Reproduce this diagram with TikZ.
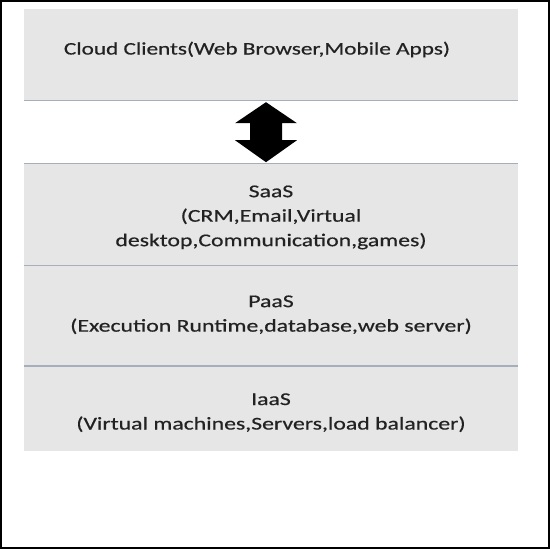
\documentclass[tikz,border=0pt]{standalone}
\usepackage{fontspec}
\setmainfont{Carlito}[FakeStretch=1.32,FakeBold=0.5]
\usetikzlibrary{positioning,calc}
\definecolor{Band}{RGB}{230,230,230}
\definecolor{Rule}{RGB}{165,174,186}
\definecolor{Ink}{RGB}{34,34,34}

\begin{document}
\begin{tikzpicture}[x=1pt,y=1pt,node distance=0pt,
 layer/.style={fill=Band,minimum width=494pt,inner sep=0pt},
 txt/.style={align=center,text=Ink,font=\fontsize{18}{24.5}\selectfont,inner sep=0pt},
 rule/.style={Rule,line width=1.3pt}]
\useasboundingbox (0,0) rectangle (550,549);
\draw[line width=2pt] (1,1) rectangle (549,548);
% stack of layers
\node[layer,minimum height=91pt] (clients) at (271,494.5) {};
\node[layer,minimum height=102pt,below=63pt of clients] (saas) {};
\node[layer,minimum height=100pt,below=of saas] (paas) {};
\node[layer,minimum height=85pt,below=of paas] (iaas) {};
\node[txt,font=\fontsize{17.6}{24.5}\selectfont] (clientsT) at ($(clients.center)+(-14,5)$) {Cloud Clients(Web Browser,Mobile Apps)};
\node[txt] (saasT) at ($(saas.center)+(0,-3)$) {SaaS\\(CRM,Email,Virtual\\desktop,Communication,games)};
\node[txt] (paasT) at ($(paas.center)+(0,1)$) {PaaS\\(Execution Runtime,database,web server)};
\node[txt] (iaasT) at ($(iaas.center)+(0,-4)$) {IaaS\\(Virtual machines,Servers,load balancer)};
\draw[rule] (clients.south west)--(clients.south east);
\draw[rule] (saas.north west)--(saas.north east);
\draw[rule] (saas.south west)--(saas.south east);
\draw[rule] (paas.south west)--(paas.south east);
% two-way arrow
\coordinate (up) at ($(clients.south)+(-5,-2)$);
\coordinate (dn) at ($(saas.north)+(-5,1)$);
\fill (up) -- ++(31,-21) -- ++(-15,0) -- ($(dn)+(16,22)$) -- ++(15,0) -- (dn)
 -- ++(-31,22) -- ++(15,0) -- ($(up)+(-16,-21)$) -- ++(-15,0) -- cycle;
\end{tikzpicture}
\end{document}
